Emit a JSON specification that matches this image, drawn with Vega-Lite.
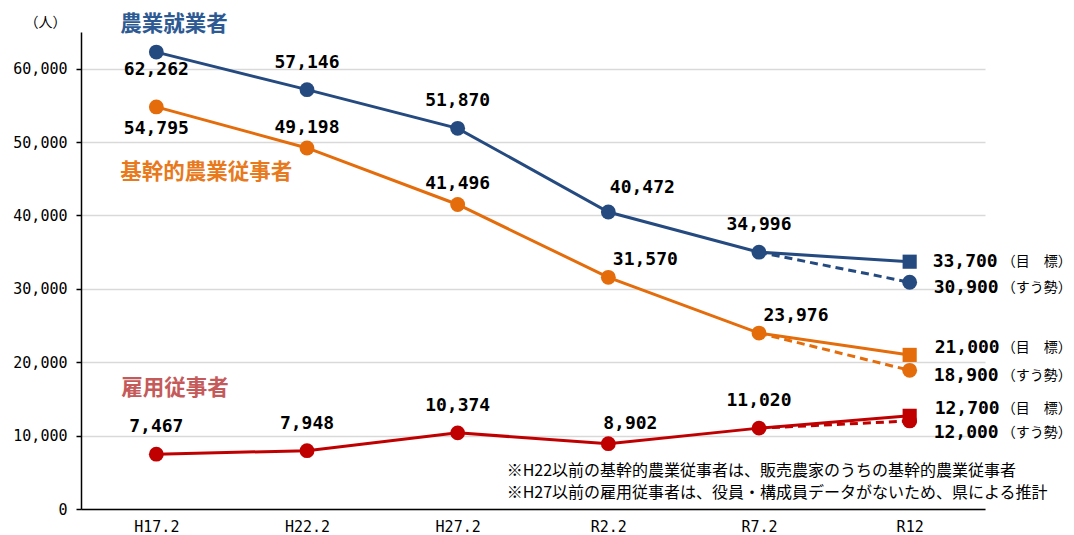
{
  "$schema": "https://vega.github.io/schema/vega-lite/v6.json",
  "width": 904,
  "height": 477,
  "autosize": {"type": "none"},
  "padding": {"left": 81, "top": 32, "right": 89, "bottom": 26},
  "background": "white",
  "config": {
    "view": {"stroke": null},
    "text": {"font": "DejaVu Sans Mono"}
  },
  "data": {
    "values": [
      {"series": "農業就業者", "x": "H17.2", "value": 62262, "kind": "実績"},
      {"series": "農業就業者", "x": "H22.2", "value": 57146, "kind": "実績"},
      {"series": "農業就業者", "x": "H27.2", "value": 51870, "kind": "実績"},
      {"series": "農業就業者", "x": "R2.2", "value": 40472, "kind": "実績"},
      {"series": "農業就業者", "x": "R7.2", "value": 34996, "kind": "実績"},
      {"series": "農業就業者", "x": "R12", "value": 33700, "kind": "目標"},
      {"series": "農業就業者", "x": "R12", "value": 30900, "kind": "すう勢"},
      {"series": "基幹的農業従事者", "x": "H17.2", "value": 54795, "kind": "実績"},
      {"series": "基幹的農業従事者", "x": "H22.2", "value": 49198, "kind": "実績"},
      {"series": "基幹的農業従事者", "x": "H27.2", "value": 41496, "kind": "実績"},
      {"series": "基幹的農業従事者", "x": "R2.2", "value": 31570, "kind": "実績"},
      {"series": "基幹的農業従事者", "x": "R7.2", "value": 23976, "kind": "実績"},
      {"series": "基幹的農業従事者", "x": "R12", "value": 21000, "kind": "目標"},
      {"series": "基幹的農業従事者", "x": "R12", "value": 18900, "kind": "すう勢"},
      {"series": "雇用従事者", "x": "H17.2", "value": 7467, "kind": "実績"},
      {"series": "雇用従事者", "x": "H22.2", "value": 7948, "kind": "実績"},
      {"series": "雇用従事者", "x": "H27.2", "value": 10374, "kind": "実績"},
      {"series": "雇用従事者", "x": "R2.2", "value": 8902, "kind": "実績"},
      {"series": "雇用従事者", "x": "R7.2", "value": 11020, "kind": "実績"},
      {"series": "雇用従事者", "x": "R12", "value": 12700, "kind": "目標"},
      {"series": "雇用従事者", "x": "R12", "value": 12000, "kind": "すう勢"}
    ]
  },
  "encoding": {
    "x": {
      "field": "x", "type": "ordinal",
      "sort": ["H17.2", "H22.2", "H27.2", "R2.2", "R7.2", "R12"],
      "scale": {"type": "point", "padding": 0.5},
      "axis": {
        "title": null, "labelAngle": 0, "ticks": false, "grid": false,
        "domainColor": "#000000", "domainWidth": 1.5,
        "labelFont": "DejaVu Sans Mono", "labelFontSize": 15, "labelColor": "#000000",
        "labelPadding": 10
      }
    },
    "y": {
      "field": "value", "type": "quantitative",
      "scale": {"domain": [0, 65000], "nice": false},
      "axis": {
        "values": [0, 10000, 20000, 30000, 40000, 50000, 60000],
        "labelExpr": "format(datum.value, ',.0f')",
        "title": "（人）", "titleAngle": 0, "titleX": -36, "titleY": -10,
        "titleAlign": "center", "titleBaseline": "middle",
        "titleFont": "Noto Sans CJK JP", "titleFontSize": 14, "titleFontWeight": "normal", "titleColor": "#000000",
        "labelFont": "DejaVu Sans Mono", "labelFontSize": 15, "labelColor": "#000000",
        "labelPadding": 9, "tickSize": 5, "tickColor": "#000000", "tickWidth": 1.5,
        "domainColor": "#000000", "domainWidth": 1.5,
        "gridColor": "#d9d9d9", "gridWidth": 1.5
      }
    },
    "color": {
      "field": "series", "type": "nominal", "legend": null,
      "scale": {
        "domain": ["農業就業者", "基幹的農業従事者", "雇用従事者"],
        "range": ["#254a80", "#e46c0a", "#c00000"]
      }
    }
  },
  "layer": [
    {
      "transform": [{"filter": "datum.kind != 'すう勢'"}],
      "mark": {"type": "line", "strokeWidth": 3},
      "encoding": {"detail": {"field": "series"}}
    },
    {
      "transform": [{"filter": "datum.kind == 'すう勢' || datum.x == 'R7.2'"}],
      "mark": {"type": "line", "strokeWidth": 3, "strokeDash": [8, 5]},
      "encoding": {"detail": {"field": "series"}}
    },
    {
      "transform": [{"filter": "datum.kind != '目標'"}],
      "mark": {"type": "point", "shape": "circle", "filled": true, "opacity": 1, "size": 220}
    },
    {
      "transform": [{"filter": "datum.kind == '目標'"}],
      "mark": {"type": "point", "shape": "square", "filled": true, "opacity": 1, "size": 200}
    },
    {
      "transform": [{"filter": "datum.kind == '実績' && datum.series != '基幹的農業従事者' && datum.x != 'R2.2' && !(datum.x == 'H17.2' && datum.series == '農業就業者')"}],
      "mark": {"type": "text", "fontSize": 18, "fontWeight": "bold", "dy": -27, "baseline": "middle"},
      "encoding": {"text": {"field": "value", "format": ",.0f"}, "color": {"value": "#000000"}}
    },
    {
      "transform": [{"filter": "datum.kind == '実績' && datum.series == '基幹的農業従事者' && (datum.x == 'H22.2' || datum.x == 'H27.2')"}],
      "mark": {"type": "text", "fontSize": 18, "fontWeight": "bold", "dy": -20, "baseline": "middle"},
      "encoding": {"text": {"field": "value", "format": ",.0f"}, "color": {"value": "#000000"}}
    },
    {
      "transform": [{"filter": "datum.kind == '実績' && datum.x == 'H17.2' && datum.series == '農業就業者'"}],
      "mark": {"type": "text", "fontSize": 18, "fontWeight": "bold", "dy": 18, "baseline": "middle"},
      "encoding": {"text": {"field": "value", "format": ",.0f"}, "color": {"value": "#000000"}}
    },
    {
      "transform": [{"filter": "datum.kind == '実績' && datum.x == 'H17.2' && datum.series == '基幹的農業従事者'"}],
      "mark": {"type": "text", "fontSize": 18, "fontWeight": "bold", "dy": 22, "baseline": "middle"},
      "encoding": {"text": {"field": "value", "format": ",.0f"}, "color": {"value": "#000000"}}
    },
    {
      "transform": [{"filter": "datum.kind == '実績' && datum.x == 'R2.2' && datum.series == '農業就業者'"}],
      "mark": {"type": "text", "fontSize": 18, "fontWeight": "bold", "dx": 34, "dy": -24, "baseline": "middle"},
      "encoding": {"text": {"field": "value", "format": ",.0f"}, "color": {"value": "#000000"}}
    },
    {
      "transform": [{"filter": "datum.kind == '実績' && datum.series == '基幹的農業従事者' && (datum.x == 'R2.2' || datum.x == 'R7.2')"}],
      "mark": {"type": "text", "fontSize": 18, "fontWeight": "bold", "dx": 37, "dy": -17, "baseline": "middle"},
      "encoding": {"text": {"field": "value", "format": ",.0f"}, "color": {"value": "#000000"}}
    },
    {
      "transform": [{"filter": "datum.kind == '実績' && datum.x == 'R2.2' && datum.series == '雇用従事者'"}],
      "mark": {"type": "text", "fontSize": 18, "fontWeight": "bold", "dx": 22, "dy": -20, "baseline": "middle"},
      "encoding": {"text": {"field": "value", "format": ",.0f"}, "color": {"value": "#000000"}}
    },
    {
      "transform": [{"filter": "datum.kind == '目標' && datum.series == '農業就業者'"}],
      "mark": {"type": "text", "fontSize": 18, "fontWeight": "bold", "align": "left", "dx": 23, "dy": 0, "baseline": "middle"},
      "encoding": {"text": {"field": "value", "format": ",.0f"}, "color": {"value": "#000000"}}
    },
    {
      "transform": [{"filter": "datum.kind == '目標' && datum.series != '農業就業者'"}],
      "mark": {"type": "text", "fontSize": 18, "fontWeight": "bold", "align": "left", "dx": 25, "dy": -7, "baseline": "middle"},
      "encoding": {"text": {"field": "value", "format": ",.0f"}, "color": {"value": "#000000"}}
    },
    {
      "transform": [{"filter": "datum.kind == 'すう勢' && datum.series != '雇用従事者'"}],
      "mark": {"type": "text", "fontSize": 18, "fontWeight": "bold", "align": "left", "dx": 24, "dy": 6, "baseline": "middle"},
      "encoding": {"text": {"field": "value", "format": ",.0f"}, "color": {"value": "#000000"}}
    },
    {
      "transform": [{"filter": "datum.kind == 'すう勢' && datum.series == '雇用従事者'"}],
      "mark": {"type": "text", "fontSize": 18, "fontWeight": "bold", "align": "left", "dx": 24, "dy": 12, "baseline": "middle"},
      "encoding": {"text": {"field": "value", "format": ",.0f"}, "color": {"value": "#000000"}}
    },
    {
      "transform": [{"filter": "datum.kind == '目標' && datum.series == '農業就業者'"}],
      "mark": {"type": "text", "font": "Noto Sans CJK JP", "fontSize": 14, "align": "left", "dx": 92, "dy": 0, "baseline": "middle", "text": "（目　標）"},
      "encoding": {"color": {"value": "#000000"}}
    },
    {
      "transform": [{"filter": "datum.kind == '目標' && datum.series != '農業就業者'"}],
      "mark": {"type": "text", "font": "Noto Sans CJK JP", "fontSize": 14, "align": "left", "dx": 92, "dy": -7, "baseline": "middle", "text": "（目　標）"},
      "encoding": {"color": {"value": "#000000"}}
    },
    {
      "transform": [{"filter": "datum.kind == 'すう勢' && datum.series != '雇用従事者'"}],
      "mark": {"type": "text", "font": "Noto Sans CJK JP", "fontSize": 14, "align": "left", "dx": 92, "dy": 6, "baseline": "middle", "text": "（すう勢）"},
      "encoding": {"color": {"value": "#000000"}}
    },
    {
      "transform": [{"filter": "datum.kind == 'すう勢' && datum.series == '雇用従事者'"}],
      "mark": {"type": "text", "font": "Noto Sans CJK JP", "fontSize": 14, "align": "left", "dx": 92, "dy": 12, "baseline": "middle", "text": "（すう勢）"},
      "encoding": {"color": {"value": "#000000"}}
    },
    {
      "transform": [{"filter": "datum.x == 'H17.2' && datum.series == '農業就業者'"}],
      "mark": {"type": "text", "font": "Noto Sans CJK JP", "fontSize": 21.5, "fontWeight": "bold", "align": "left", "baseline": "middle", "dx": -36, "text": "農業就業者"},
      "encoding": {"y": {"datum": 65900}, "color": {"value": "#2e5a94"}}
    },
    {
      "transform": [{"filter": "datum.x == 'H17.2' && datum.series == '基幹的農業従事者'"}],
      "mark": {"type": "text", "font": "Noto Sans CJK JP", "fontSize": 21.5, "fontWeight": "bold", "align": "left", "baseline": "middle", "dx": -36, "text": "基幹的農業従事者"},
      "encoding": {"y": {"datum": 45850}, "color": {"value": "#e8791c"}}
    },
    {
      "transform": [{"filter": "datum.x == 'H17.2' && datum.series == '雇用従事者'"}],
      "mark": {"type": "text", "font": "Noto Sans CJK JP", "fontSize": 21.5, "fontWeight": "bold", "align": "left", "baseline": "middle", "dx": -35, "text": "雇用従事者"},
      "encoding": {"y": {"datum": 16330}, "color": {"value": "#c55a5a"}}
    },
    {
      "transform": [{"filter": "datum.x == 'H27.2' && datum.series == '雇用従事者'"}],
      "mark": {"type": "text", "font": "Noto Sans CJK JP", "fontSize": 16, "align": "left", "baseline": "middle", "dx": 49, "text": "※H22以前の基幹的農業従事者は、販売農家のうちの基幹的農業従事者"},
      "encoding": {"y": {"datum": 5150}, "color": {"value": "#000000"}}
    },
    {
      "transform": [{"filter": "datum.x == 'H27.2' && datum.series == '雇用従事者'"}],
      "mark": {"type": "text", "font": "Noto Sans CJK JP", "fontSize": 16, "align": "left", "baseline": "middle", "dx": 49, "text": "※H27以前の雇用従事者は、役員・構成員データがないため、県による推計"},
      "encoding": {"y": {"datum": 2150}, "color": {"value": "#000000"}}
    }
  ]
}
